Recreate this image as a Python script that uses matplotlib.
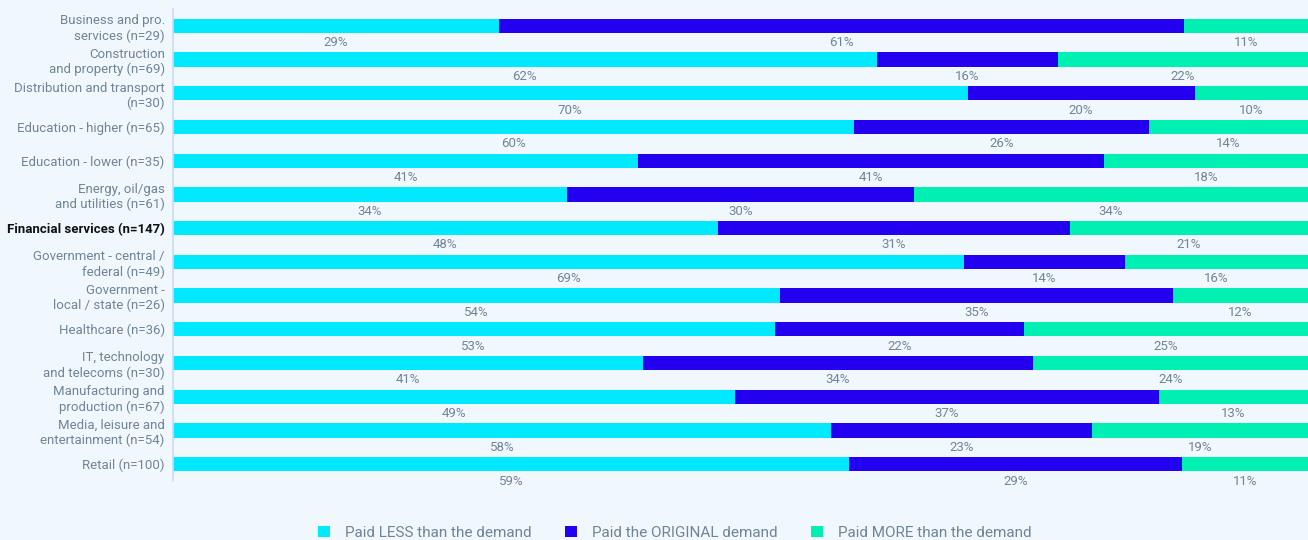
import matplotlib
matplotlib.use("Agg")
import matplotlib.pyplot as plt
from matplotlib.patches import Patch
import numpy as np

plt.rcParams['font.family'] = ['Roboto', 'DejaVu Sans']

categories = [
    "Business and pro.\nservices (n=29)",
    "Construction\nand property (n=69)",
    "Distribution and transport\n(n=30)",
    "Education - higher (n=65)",
    "Education - lower (n=35)",
    "Energy, oil/gas\nand utilities (n=61)",
    "Financial services (n=147)",
    "Government - central /\nfederal (n=49)",
    "Government -\nlocal / state (n=26)",
    "Healthcare (n=36)",
    "IT, technology\nand telecoms (n=30)",
    "Manufacturing and\nproduction (n=67)",
    "Media, leisure and\nentertainment (n=54)",
    "Retail (n=100)",
]
paid_less = [29, 62, 70, 60, 41, 34, 48, 69, 54, 53, 41, 49, 58, 59]
paid_original = [61, 16, 20, 26, 41, 30, 31, 14, 35, 22, 34, 37, 23, 29]
paid_more = [11, 22, 10, 14, 18, 34, 21, 16, 12, 25, 24, 13, 19, 11]

series = [
    ("Paid LESS than the demand", paid_less, "#00E9FF"),
    ("Paid the ORIGINAL demand", paid_original, "#2300F0"),
    ("Paid MORE than the demand", paid_more, "#00F0B4"),
]

bg = "#F1F8FD"
text_col = "#6E8497"

fig = plt.figure(figsize=(13.08, 5.40), dpi=100, facecolor=bg)
ax = fig.add_axes([173 / 1308, 1 - 481 / 540, 1 - 173 / 1308, 472 / 540])
ax.set_facecolor(bg)

# stacked shares per sector, percentage label under each segment
y = np.arange(len(categories))
totals = np.array(paid_less) + np.array(paid_original) + np.array(paid_more)
left = np.zeros(len(categories))
for name, vals, color in series:
    share = np.array(vals) / totals * 100
    ax.barh(y, share, left=left, height=0.42, color=color, label=name)
    for yi, l, w, v in zip(y, left, share, vals):
        ax.text(l + w / 2, yi + 0.5, f"{v}%", ha="center", va="center",
                fontsize=9.5, color=text_col)
    left += share

ax.set_xlim(0, 100)
ax.set_ylim(len(categories) - 0.5, -0.5)
ax.set_yticks(y)
ax.set_yticklabels(categories, fontsize=9.5, color=text_col, linespacing=1.2)
for lbl in ax.get_yticklabels():
    if lbl.get_text().startswith("Financial"):
        lbl.set_fontweight("bold")
        lbl.set_color("#111111")
ax.tick_params(axis="y", length=0, pad=6)
ax.set_xticks([])
for s in ["top", "right", "bottom"]:
    ax.spines[s].set_visible(False)
ax.spines["left"].set_color("#C9DAF5")
ax.spines["left"].set_linewidth(1.2)

handles = [Patch(facecolor=c, label=n) for n, _, c in series]
fig.legend(handles=handles, loc="lower center", bbox_to_anchor=(0.516, -0.025),
           ncol=3, frameon=False, fontsize=11, handlelength=0.75, handleheight=0.75,
           handletextpad=1.0, columnspacing=2.2, labelcolor=text_col)

fig.savefig("out.png", dpi=100, facecolor=bg)
